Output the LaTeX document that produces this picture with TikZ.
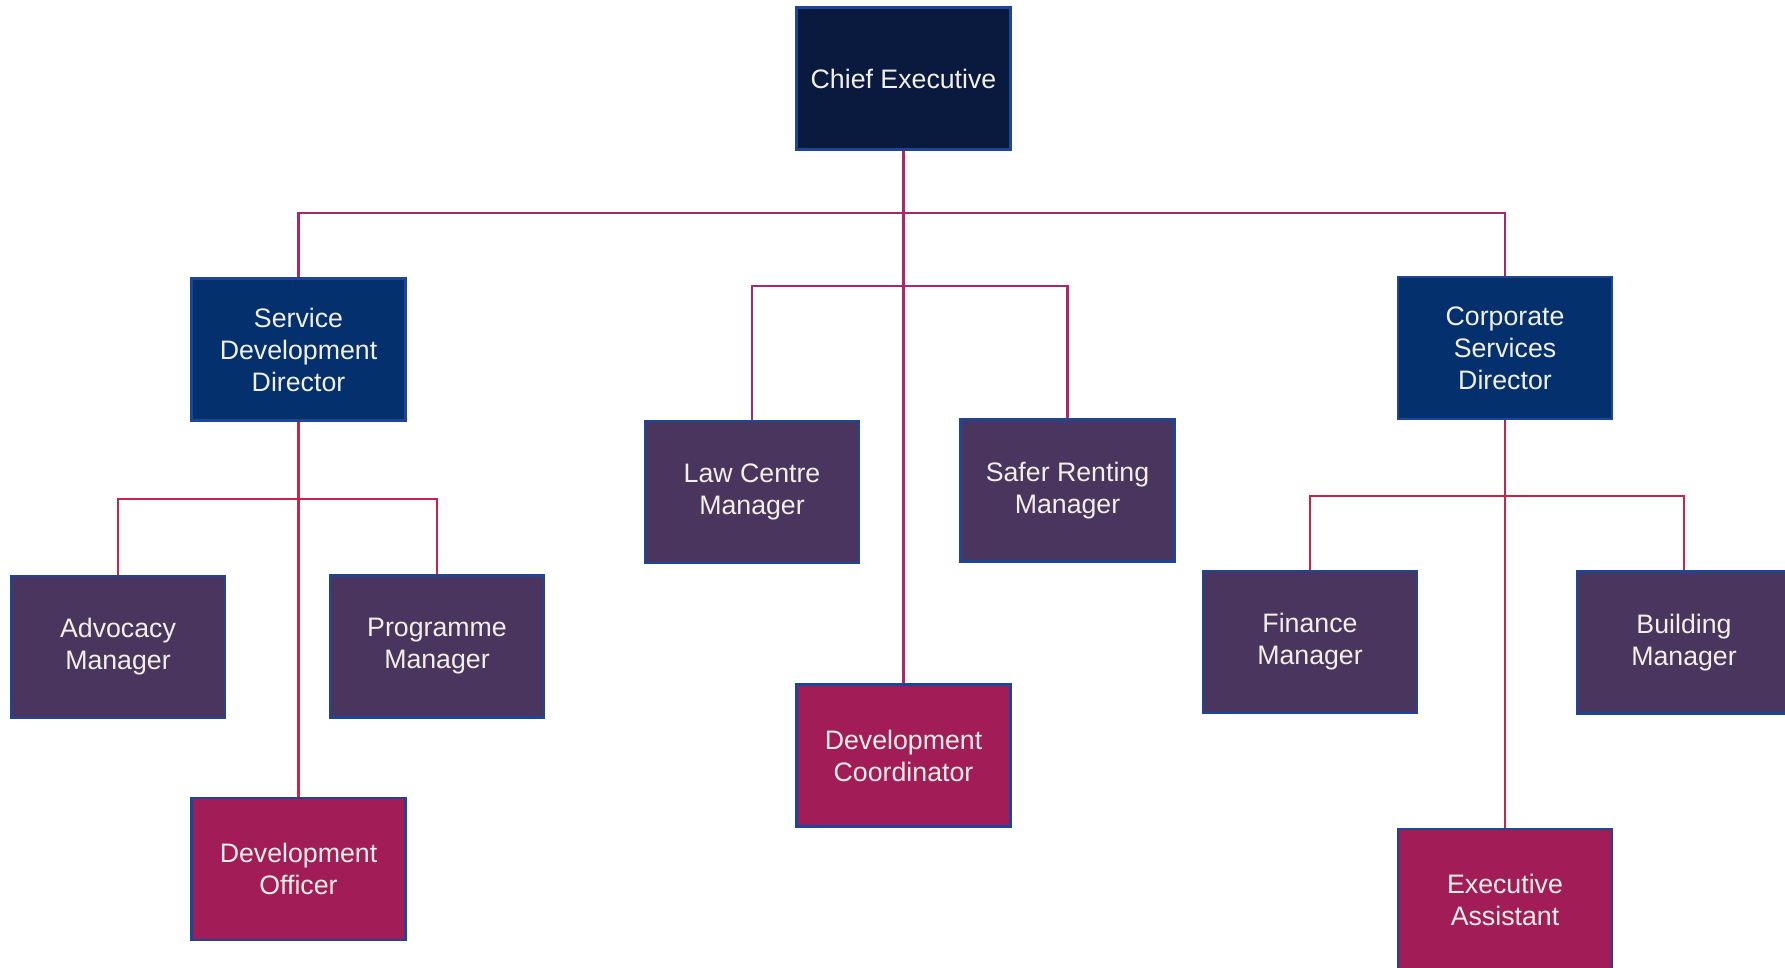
\documentclass[tikz,border=0pt]{standalone}
\usepackage{fontspec}
\setmainfont{Liberation Sans}
\usepackage{xcolor}
\usepackage{tikz}

\definecolor{ceblue}{RGB}{10,26,62}
\definecolor{dirblue}{RGB}{4,48,110}
\definecolor{mgrpurple}{RGB}{74,53,94}
\definecolor{staffred}{RGB}{162,28,88}
\definecolor{rimblue}{RGB}{30,70,150}
\definecolor{toplink}{RGB}{172,38,108}
\definecolor{sublink}{RGB}{200,35,72}
\definecolor{boxtext}{RGB}{242,240,230}

\tikzset{
  post/.style={draw=rimblue,line width=0.8pt,minimum width=2.14cm,minimum height=1.42cm,
    align=center,text=boxtext,font=\fontsize{7.6}{9.1}\selectfont,inner sep=0pt},
  chief/.style={post,fill=ceblue},
  director/.style={post,fill=dirblue},
  manager/.style={post,fill=mgrpurple},
  staff/.style={post,fill=staffred},
  toplink/.style={draw=toplink,line width=0.75pt},
  sublink/.style={draw=sublink,line width=0.75pt}
}

\begin{document}
\begin{tikzpicture}[x=0.01cm,y=-0.01cm]
  \useasboundingbox (0,0) rectangle (1785,968);

  % top of the tree
  \node[chief] (ce) at (903.5,78.5) {Chief Executive};
  \node[director] (sdd) at (298.5,349.5) {Service\\Development\\Director};
  \node[director] (csd) at (1505,348) {Corporate\\Services\\Director};

  % managers
  \foreach \nm/\x/\y/\txt in {law/752/492/{Law Centre\\Manager},
      safer/1067.5/490.5/{Safer Renting\\Manager},
      adv/118/647/{Advocacy\\Manager},
      prog/437/646.5/{Programme\\Manager},
      fin/1310/642/{Finance\\Manager},
      bld/1684/642.5/{Building\\Manager}}
    \node[manager] (\nm) at (\x,\y) {\txt};

  % staff posts
  \node[staff] (devo) at (298.5,869) {Development\\Officer};
  \node[staff] (devc) at (903.5,755.5) {Development\\Coordinator};
  \node[staff] (ea) at (1505,900) {Executive\\Assistant};

  % reporting lines
  \coordinate (bus) at (903.5,213);
  \coordinate (midbus) at (903.5,286);
  \coordinate (sddbus) at (298.5,499);
  \coordinate (csdbus) at (1505,496);

  \draw[toplink] (ce.south) -- (devc.north);
  \draw[toplink] (sdd.north) |- (bus) -| (csd.north);
  \draw[toplink] (law.north) |- (midbus) -| (safer.north);

  \draw[sublink] (sdd.south) -- (devo.north);
  \draw[sublink] (adv.north) |- (sddbus) -| (prog.north);
  \draw[sublink] (csd.south) -- (ea.north);
  \draw[sublink] (fin.north) |- (csdbus) -| (bld.north);
\end{tikzpicture}
\end{document}
